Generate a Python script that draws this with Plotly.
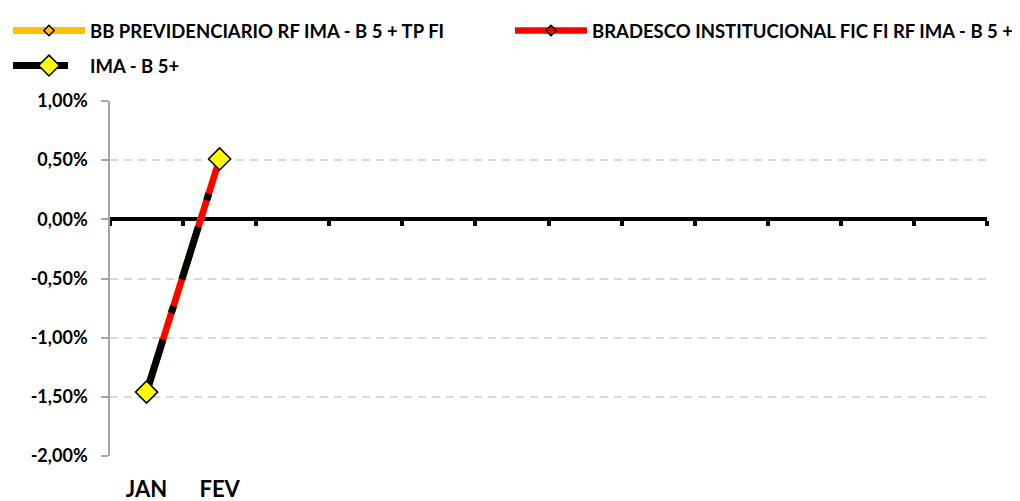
import plotly.graph_objects as go

MONTHS = ["JAN", "FEV", "MAR", "ABR", "MAI", "JUN",
          "JUL", "AGO", "SET", "OUT", "NOV", "DEZ"]
MONTH_LABELS = ["JAN", "FEV", "", "", "", "", "", "", "", "", "", ""]

PERIODS = ["JAN", "FEV"]
BB_PREV = [-1.46, 0.51]
BRADESCO = [-1.46, 0.51]
IMA_B5 = [-1.46, 0.51]

Y_TICKS = [-2.0, -1.5, -1.0, -0.5, 0.0, 0.5, 1.0]
Y_LABELS = ["-2,00%", "-1,50%", "-1,00%", "-0,50%", "0,00%", "0,50%", "1,00%"]

FONT = "Lato"
W, H = 1012, 493  # page body has an 8px margin

fig = go.Figure()
# BB series lives on the base x axis (the one drawn as the zero line);
# the other two sit on the overlaid axis so they are drawn above it
fig.add_trace(go.Scatter(
    x=PERIODS, y=BB_PREV, name="BB PREVIDENCIARIO RF IMA - B 5 + TP FI",
    xaxis="x", legend="legend", legendgroup="bb",
    mode="lines+markers", line=dict(color="#FFC000", width=7),
    marker=dict(symbol="diamond", size=8, color="#FFC000",
                line=dict(color="black", width=1.5))))
fig.add_trace(go.Scatter(
    x=PERIODS, y=BRADESCO, name="BRADESCO INSTITUCIONAL FIC FI RF IMA - B 5 +",
    xaxis="x2", legend="legend2",
    mode="lines+markers", line=dict(color="#FF0000", width=6.5),
    marker=dict(symbol="diamond", size=8, color="#FF0000",
                line=dict(color="black", width=1.5))))
fig.add_trace(go.Scatter(
    x=PERIODS, y=IMA_B5, name="IMA - B 5+",
    xaxis="x2", legend="legend", legendgroup="ima",
    mode="lines+markers",
    line=dict(color="black", width=7, dash="55px,28px,7px,28px"),
    marker=dict(symbol="diamond", size=17, color="#FFFF00",
                line=dict(color="black", width=1.5))))

legend_style = dict(
    orientation="v", xref="container", yref="container",
    yanchor="top", itemwidth=72, tracegroupgap=8,
    font=dict(family=FONT, size=18.5, color="black", weight="bold"),
    bgcolor="rgba(0,0,0,0)")

fig.update_layout(
    width=W, height=H,
    margin=dict(l=102, r=33, t=93, b=45, autoexpand=False),
    paper_bgcolor="white", plot_bgcolor="white",
    font=dict(family=FONT, size=16, color="black", weight="bold"),
    showlegend=True,
    legend=dict(x=0.0, y=0.992, xanchor="left", **legend_style),
    legend2=dict(x=0.999, y=0.992, xanchor="right", **legend_style),
    xaxis=dict(type="category", categoryorder="array", categoryarray=MONTHS,
               range=[-0.5, len(MONTHS) - 0.5],
               anchor="free", position=2 / 3, side="bottom",
               tickvals=MONTHS, ticktext=[""] * len(MONTHS),
               tickson="boundaries", ticks="outside", ticklen=5,
               tickwidth=4, tickcolor="black",
               showline=True, linewidth=4, linecolor="black",
               showgrid=False, zeroline=False, layer="below traces"),
    xaxis2=dict(type="category", categoryorder="array", categoryarray=MONTHS,
                range=[-0.5, len(MONTHS) - 0.5], overlaying="x",
                anchor="y", side="bottom",
                tickvals=MONTHS, ticktext=MONTH_LABELS,
                showline=False, showgrid=False, zeroline=False,
                ticks="outside", ticklen=14, tickcolor="rgba(0,0,0,0)",
                tickfont=dict(family=FONT, size=22, weight="bold")),
    yaxis=dict(range=[-2.0, 1.0], tickvals=Y_TICKS, ticktext=Y_LABELS,
               showline=True, linecolor="#A6A6A6", linewidth=1.5,
               ticks="outside", ticklen=7, tickcolor="#A6A6A6", tickwidth=1.5,
               ticklabelstandoff=10,
               showgrid=True, gridcolor="#D9D9D9", gridwidth=1.5,
               griddash="8px,6px", zeroline=False,
               tickfont=dict(family=FONT, size=18, weight="bold")),
)

fig.write_html("out.html")
